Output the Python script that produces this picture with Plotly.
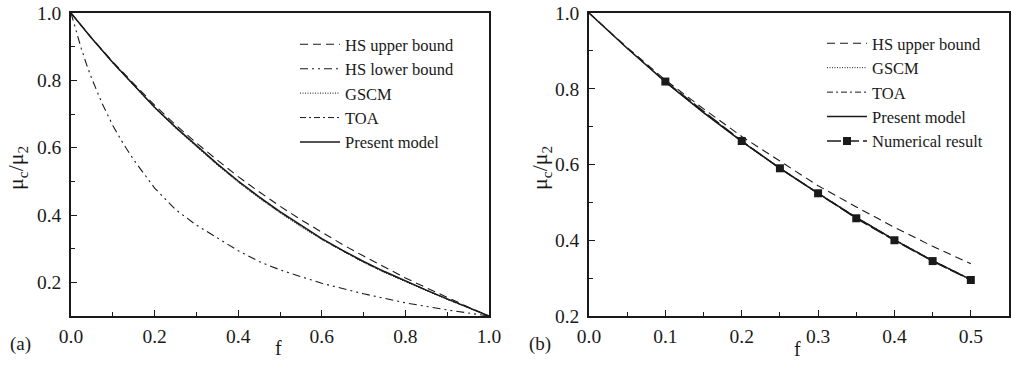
import plotly.graph_objects as go

# ---------- Panel (a) data ----------
fa = [0.0, 0.05, 0.1, 0.15, 0.2, 0.25, 0.3, 0.35, 0.4, 0.45, 0.5, 0.55, 0.6, 0.65, 0.7, 0.75, 0.8, 0.85, 0.9, 0.95, 1.0]
hs_upper_a = [1.0, 0.925, 0.855, 0.789, 0.726, 0.668, 0.614, 0.563, 0.514, 0.469, 0.426, 0.386, 0.348, 0.312, 0.278, 0.245, 0.213, 0.184, 0.155, 0.127, 0.1]
present_a = [1.0, 0.924, 0.853, 0.785, 0.720, 0.661, 0.606, 0.552, 0.501, 0.454, 0.410, 0.369, 0.330, 0.295, 0.262, 0.232, 0.204, 0.177, 0.151, 0.126, 0.1]
gscm_a = [1.0, 0.923, 0.851, 0.783, 0.718, 0.658, 0.602, 0.548, 0.497, 0.450, 0.406, 0.365, 0.327, 0.292, 0.259, 0.229, 0.201, 0.175, 0.149, 0.124, 0.1]
toa_a = [1.0, 0.924, 0.852, 0.784, 0.719, 0.660, 0.604, 0.550, 0.499, 0.452, 0.408, 0.367, 0.328, 0.293, 0.260, 0.230, 0.203, 0.176, 0.150, 0.125, 0.1]
fa_low = [0.0, 0.0125, 0.025, 0.0375, 0.05, 0.075, 0.1, 0.125, 0.15, 0.2, 0.25, 0.3, 0.35, 0.4, 0.45, 0.5, 0.6, 0.7, 0.8, 0.9, 1.0]
hs_lower_a = [1.0, 0.944, 0.893, 0.846, 0.804, 0.730, 0.666, 0.612, 0.564, 0.480, 0.416, 0.370, 0.332, 0.294, 0.262, 0.237, 0.197, 0.166, 0.139, 0.118, 0.1]

# ---------- Panel (b) data ----------
fb = [0.0, 0.05, 0.1, 0.15, 0.2, 0.25, 0.3, 0.35, 0.4, 0.45, 0.5]
hs_upper_b = [1.0, 0.909, 0.823, 0.747, 0.674, 0.608, 0.544, 0.488, 0.434, 0.384, 0.338]
present_b = [1.0, 0.907, 0.818, 0.737, 0.661, 0.590, 0.524, 0.460, 0.401, 0.346, 0.296]
gscm_b = [1.0, 0.906, 0.817, 0.736, 0.660, 0.589, 0.523, 0.459, 0.400, 0.345, 0.295]
toa_b = [1.0, 0.907, 0.818, 0.738, 0.662, 0.591, 0.525, 0.461, 0.402, 0.347, 0.297]
f_num = [0.1, 0.2, 0.25, 0.3, 0.35, 0.4, 0.45, 0.5]
num_b = [0.819, 0.662, 0.590, 0.524, 0.458, 0.400, 0.345, 0.295]

FONT = "Liberation Serif"
INK = "#1a1a1a"

W, H = 1011, 366
def px_x(p):
    return p / W
def px_y(p):
    return 1 - p / H

fig = go.Figure()

# Panel (a) traces
fig.add_trace(go.Scatter(x=fa, y=hs_upper_a, mode="lines", name="HS upper bound",
                         line=dict(color=INK, width=1.1, dash="8px,5px"),
                         xaxis="x", yaxis="y", legend="legend"))
fig.add_trace(go.Scatter(x=fa_low, y=hs_lower_a, mode="lines", name="HS lower bound",
                         line=dict(color=INK, width=1.1, dash="8px,4px,2px,4px,2px,4px"),
                         xaxis="x", yaxis="y", legend="legend"))
fig.add_trace(go.Scatter(x=fa, y=gscm_a, mode="lines", name="GSCM",
                         line=dict(color=INK, width=1.0, dash="1px,1.5px"),
                         xaxis="x", yaxis="y", legend="legend"))
fig.add_trace(go.Scatter(x=fa, y=toa_a, mode="lines", name="TOA",
                         line=dict(color=INK, width=1.0, dash="6px,3px,2px,3px"),
                         xaxis="x", yaxis="y", legend="legend"))
fig.add_trace(go.Scatter(x=fa, y=present_a, mode="lines", name="Present model",
                         line=dict(color=INK, width=1.5),
                         xaxis="x", yaxis="y", legend="legend"))

# Panel (b) traces
fig.add_trace(go.Scatter(x=fb, y=hs_upper_b, mode="lines", name="HS upper bound",
                         line=dict(color=INK, width=1.1, dash="8px,5px"),
                         xaxis="x2", yaxis="y2", legend="legend2"))
fig.add_trace(go.Scatter(x=fb, y=gscm_b, mode="lines", name="GSCM",
                         line=dict(color=INK, width=1.0, dash="1px,1.5px"),
                         xaxis="x2", yaxis="y2", legend="legend2"))
fig.add_trace(go.Scatter(x=fb, y=toa_b, mode="lines", name="TOA",
                         line=dict(color=INK, width=1.0, dash="6px,3px,2px,3px"),
                         xaxis="x2", yaxis="y2", legend="legend2"))
fig.add_trace(go.Scatter(x=fb, y=present_b, mode="lines", name="Present model",
                         line=dict(color=INK, width=1.5),
                         xaxis="x2", yaxis="y2", legend="legend2"))
fig.add_trace(go.Scatter(x=f_num, y=num_b, mode="lines+markers", name="Numerical result",
                         line=dict(color=INK, width=1.5, dash="14px,4px"),
                         marker=dict(symbol="square", size=8, color=INK),
                         xaxis="x2", yaxis="y2", legend="legend2"))

axis_common = dict(
    showline=True, linecolor=INK, linewidth=1.5, mirror=True,
    ticks="inside", ticklen=6, tickwidth=1.2, tickcolor=INK,
    showgrid=False, zeroline=False, automargin=False,
    tickfont=dict(family=FONT, size=19.5, color=INK),
    tickformat=".1f",
)

fig.update_layout(
    width=W, height=H,
    margin=dict(l=0, r=0, t=0, b=0, autoexpand=False),
    paper_bgcolor="white", plot_bgcolor="white",
    font=dict(family=FONT, color=INK),
    xaxis=dict(domain=[px_x(71), px_x(489)], range=[0, 1.0], anchor="y",
               tickvals=[0, 0.2, 0.4, 0.6, 0.8, 1.0],
               minor=dict(ticks="inside", dtick=0.1, ticklen=4, tickcolor=INK, tickwidth=1.1),
               ticklabelstandoff=2, **axis_common),
    yaxis=dict(domain=[px_y(316), px_y(13)], range=[0.1, 1.0], anchor="x",
               tickvals=[0.2, 0.4, 0.6, 0.8, 1.0],
               minor=dict(ticks="inside", tickvals=[0.1, 0.3, 0.5, 0.7, 0.9], ticklen=4, tickcolor=INK, tickwidth=1.1),
               ticklabelstandoff=4, **axis_common),
    xaxis2=dict(domain=[px_x(589), px_x(1009)], range=[0, 0.55], anchor="y2",
                tickvals=[0, 0.1, 0.2, 0.3, 0.4, 0.5],
                minor=dict(ticks="inside", dtick=0.05, ticklen=4, tickcolor=INK, tickwidth=1.1),
                ticklabelstandoff=2, **axis_common),
    yaxis2=dict(domain=[px_y(316), px_y(13)], range=[0.2, 1.0], anchor="x2",
                tickvals=[0.2, 0.4, 0.6, 0.8, 1.0],
                minor=dict(ticks="inside", tickvals=[0.3, 0.5, 0.7, 0.9], ticklen=4, tickcolor=INK, tickwidth=1.1),
                ticklabelstandoff=4, **axis_common),
    legend=dict(x=px_x(295), y=px_y(27), xanchor="left", yanchor="top",
                bgcolor="rgba(0,0,0,0)", borderwidth=0,
                font=dict(family=FONT, size=16.5, color=INK),
                tracegroupgap=0, itemwidth=40),
    legend2=dict(x=px_x(822), y=px_y(26), xanchor="left", yanchor="top",
                 bgcolor="rgba(0,0,0,0)", borderwidth=0,
                 font=dict(family=FONT, size=16.5, color=INK),
                 tracegroupgap=0, itemwidth=40),
    showlegend=True,
)

def label(text, x, y, size, angle=0):
    fig.add_annotation(text=text, x=px_x(x), y=px_y(y), xref="paper", yref="paper",
                       xanchor="center", yanchor="middle", showarrow=False,
                       textangle=angle, font=dict(family=FONT, size=size, color=INK))

label("f", 278, 348, 20)
label("f", 797, 349, 20)
label("μ<sub>c</sub>/μ<sub>2</sub>", 17, 168, 22, -90)
label("μ<sub>c</sub>/μ<sub>2</sub>", 541, 168, 22, -90)
label("(a)", 20, 344, 19)
label("(b)", 540, 344, 19)

fig.write_html(
    "out.html",
    config={"displayModeBar": False},
    post_script="document.body.style.margin='0';document.body.style.overflow='hidden';",
)
